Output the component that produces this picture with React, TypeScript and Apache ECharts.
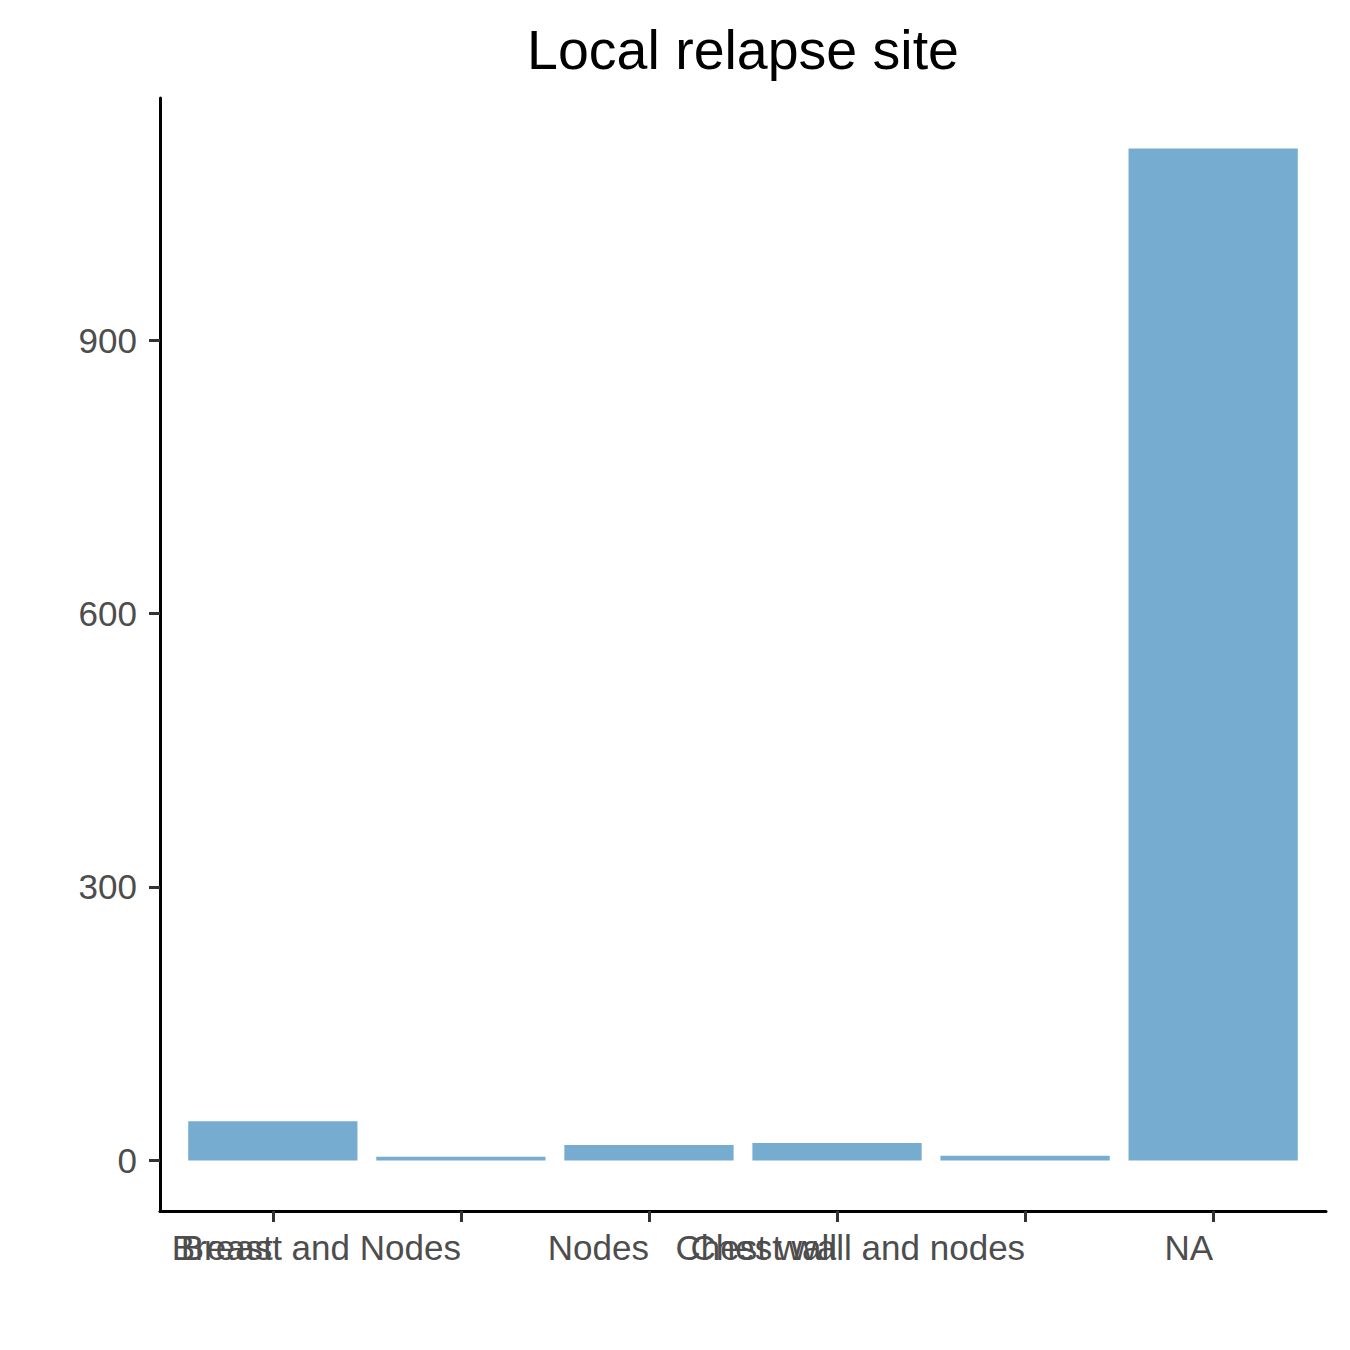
import React, { useEffect, useRef } from "react";
import * as echarts from "echarts";

const categories = ["Breast", "Breast and Nodes", "Nodes", "Chest wall", "Chest wall and nodes", "NA"];
const counts = [43, 4, 17, 19, 5, 1110];
const yTicks = [0, 300, 600, 900];

const FONT = "'Liberation Sans', Arial, Helvetica, sans-serif";

export default function App() {
  const ref = useRef<HTMLDivElement | null>(null);

  useEffect(() => {
    if (!ref.current) return;
    const chart = echarts.init(ref.current, null, { renderer: "svg" });
    const maxV = Math.max(...counts);
    const yMin = -0.05 * maxV;
    const yMax = maxV * 1.05;
    const plotLeft = 160;
    const plotRight = 24;
    const plotW = 1350 - plotLeft - plotRight;
    const band = plotW / (categories.length + 0.2);
    const pad = band * 0.1;

    chart.setOption({
      animation: false,
      backgroundColor: "#ffffff",
      title: {
        text: "Local relapse site",
        left: plotLeft + plotW / 2 - 5,
        textAlign: "center",
        top: 17,
        textStyle: { fontFamily: FONT, fontSize: 55.5, fontWeight: "normal", color: "#000000" },
      },
      grid: [
        { left: plotLeft, right: plotRight, top: 98, bottom: 139 },
        { left: plotLeft + pad, right: plotRight + pad, top: 98, bottom: 139 },
      ],
      xAxis: [
        {
          gridIndex: 0,
          type: "value",
          min: 0,
          max: 1,
          axisLine: { show: true, onZero: false, lineStyle: { color: "#000000", width: 3 } },
          axisTick: { show: false },
          axisLabel: { show: false },
          splitLine: { show: false },
        },
        {
          gridIndex: 1,
          type: "category",
          data: categories,
          boundaryGap: true,
          axisLine: { show: false, onZero: false },
          axisTick: { show: true, alignWithLabel: true, length: 11, lineStyle: { color: "#333333", width: 3 } },
          axisLabel: {
            show: true,
            interval: 0,
            align: "right",
            margin: 19,
            fontFamily: FONT,
            fontSize: 35,
            color: "#4D4D4D",
            hideOverlap: false,
          },
          splitLine: { show: false },
        },
      ],
      yAxis: [
        {
          gridIndex: 0,
          type: "value",
          min: yMin,
          max: yMax,
          axisLine: { show: true, onZero: false, lineStyle: { color: "#000000", width: 3 } },
          axisTick: { show: true, length: 11, customValues: yTicks, lineStyle: { color: "#333333", width: 3 } },
          axisLabel: {
            show: true,
            customValues: yTicks,
            margin: 23,
            fontFamily: FONT,
            fontSize: 35,
            color: "#4D4D4D",
          },
          splitLine: { show: false },
        },
        {
          gridIndex: 1,
          type: "value",
          min: yMin,
          max: yMax,
          show: false,
          splitLine: { show: false },
        },
      ],
      series: [
        {
          type: "bar",
          xAxisIndex: 1,
          yAxisIndex: 1,
          data: counts,
          barWidth: "90%",
          itemStyle: { color: "#77ACD1" },
        },
      ],
    });

    return () => chart.dispose();
  }, []);

  return (
    <div
      ref={ref}
      style={{ position: "absolute", left: 0, top: 0, width: 1350, height: 1350, background: "#fff" }}
    />
  );
}
